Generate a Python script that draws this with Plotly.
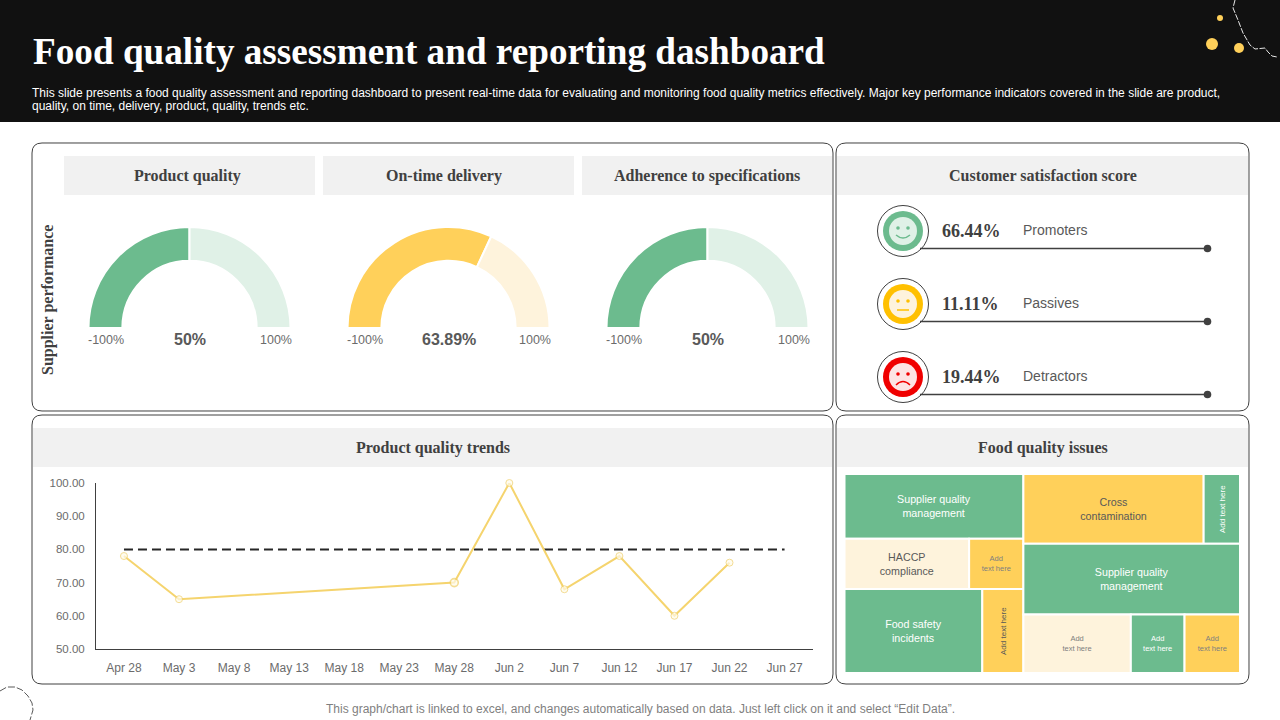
import plotly.graph_objects as go

# header text
title_text = "Food quality assessment and reporting dashboard"
sub_line1 = ("This slide presents a food quality assessment and reporting dashboard to present real-time data for "
             "evaluating and monitoring food quality metrics effectively. Major key performance indicators covered in the slide are product,")
sub_line2 = "quality, on time, delivery, product, quality, trends etc."
foot_text = "This graph/chart is linked to excel, and changes automatically based on data. Just left click on it and select “Edit Data”."

# gauges
gauge_names = ["Product quality", "On-time delivery", "Adherence to specifications"]
gauge_values = [50, 63.89, 50]
gauge_main = ["#6CBB8E", "#FFD05A", "#6CBB8E"]
gauge_rest = ["#E0F1E7", "#FEF3DC", "#E0F1E7"]

# customer satisfaction
sat_names = ["Promoters", "Passives", "Detractors"]
sat_values = ["66.44%", "11.11%", "19.44%"]
sat_colors = ["#6CBB8E", "#FFC000", "#F00000"]
sat_faces = ["#E0F1E7", "#FEF3DC", "#FDE4E4"]

# trend line
trend_dates = ["2024-04-28", "2024-05-03", "2024-05-28", "2024-06-02",
               "2024-06-07", "2024-06-12", "2024-06-17", "2024-06-22"]
trend_values = [78, 65, 70, 100, 68, 78, 60, 76]
target_dates = ["2024-04-28", "2024-06-27"]
target_values = [80, 80]
tick_dates = ["2024-04-28", "2024-05-03", "2024-05-08", "2024-05-13", "2024-05-18", "2024-05-23", "2024-05-28",
              "2024-06-02", "2024-06-07", "2024-06-12", "2024-06-17", "2024-06-22", "2024-06-27"]
tick_labels = ["Apr 28", "May 3", "May 8", "May 13", "May 18", "May 23", "May 28",
               "Jun 2", "Jun 7", "Jun 12", "Jun 17", "Jun 22", "Jun 27"]

# treemap
GREEN, YELLOW, CREAM = "#6CBB8E", "#FFD05A", "#FEF3DC"
issue_ids = ["root", "left", "right", "l1", "l2", "l3", "r1", "r2", "r3",
             "a", "b", "c", "d", "e", "f", "g", "h", "i", "j", "k"]
issue_parents = ["", "root", "root", "left", "left", "left", "right", "right", "right",
                 "l1", "l2", "l2", "l3", "l3", "r1", "r1", "r2", "r3", "r3", "r3"]
issue_values = [0, 0, 0, 0, 0, 0, 0, 0, 0,
                114, 62, 27, 114, 34, 124, 25, 151, 62, 31, 32]
issue_text = [""] * 9 + ["Supplier quality<br>management", "HACCP<br>compliance", "Add<br>text here",
                         "Food safety<br>incidents", "", "Cross<br>contamination", "",
                         "Supplier quality<br>management", "Add<br>text here", "Add<br>text here", "Add<br>text here"]
issue_colors = ["#FFFFFF"] * 9 + [GREEN, CREAM, YELLOW, GREEN, YELLOW, YELLOW, GREEN, GREEN, CREAM, GREEN, YELLOW]
issue_sizes = [8] * 9 + [10.7, 10.7, 7.5, 10.7, 8, 10.7, 8, 10.7, 7.5, 7.5, 7.5]
issue_fonts = ["#FFFFFF"] * 9 + ["#FFFFFF", "#595959", "#7F7F7F", "#FFFFFF", "#595959", "#595959", "#FFFFFF",
                                 "#FFFFFF", "#7F7F7F", "#FFFFFF", "#7F7F7F"]

SERIF = "Liberation Serif"
SANS = "Liberation Sans"
DARK = "#404040"
TICK = "#6B6B6B"


def px(x):
    return x / 1280


def py(y):
    return 1 - y / 720


def rect(x0, y0, x1, y1, fill, line=None, layer="below"):
    return dict(type="rect", xref="paper", yref="paper", x0=px(x0), x1=px(x1), y0=py(y0), y1=py(y1),
                fillcolor=fill, line=dict(width=0 if line is None else 1, color=line or fill), layer=layer)


def circle(cx, cy, r, fill, line=None, width=1):
    return dict(type="circle", xref="paper", yref="paper", x0=px(cx - r), x1=px(cx + r), y0=py(cy + r), y1=py(cy - r),
                fillcolor=fill, line=dict(width=width if line else 0, color=line or fill), layer="above")


def path(points, color, width=1.5, dash="solid", cmd="L"):
    d = "M %f,%f " % (px(points[0][0]), py(points[0][1]))
    if cmd == "Q":
        d += "Q %f,%f %f,%f" % (px(points[1][0]), py(points[1][1]), px(points[2][0]), py(points[2][1]))
    else:
        d += " ".join("L %f,%f" % (px(a), py(b)) for a, b in points[1:])
    return dict(type="path", xref="paper", yref="paper", path=d, line=dict(color=color, width=width, dash=dash),
                layer="above")


def panel(x0, y0, x1, y1, r=10):
    d = ("M %f,%f L %f,%f Q %f,%f %f,%f L %f,%f Q %f,%f %f,%f L %f,%f Q %f,%f %f,%f L %f,%f Q %f,%f %f,%f Z" % (
        px(x0 + r), py(y0), px(x1 - r), py(y0), px(x1), py(y0), px(x1), py(y0 + r),
        px(x1), py(y1 - r), px(x1), py(y1), px(x1 - r), py(y1),
        px(x0 + r), py(y1), px(x0), py(y1), px(x0), py(y1 - r),
        px(x0), py(y0 + r), px(x0), py(y0), px(x0 + r), py(y0)))
    return dict(type="path", xref="paper", yref="paper", path=d, line=dict(color=DARK, width=1), layer="below")


def label(x, y, text, size=12, color=DARK, family=SANS, anchor="center", angle=0):
    return dict(xref="paper", yref="paper", x=px(x), y=py(y), text=text, showarrow=False, xanchor=anchor,
                yanchor="middle", textangle=angle, font=dict(size=size, color=color, family=family))


def bold(t):
    return "<b>" + t + "</b>"


shapes = [rect(0, 0, 1280, 122, "#111111")]
annotations = [
    label(31, 52, bold(title_text), 37.2, "#FFFFFF", SERIF, "left"),
    label(30, 93.5, sub_line1, 12, "#FFFFFF", SANS, "left"),
    label(30, 106, sub_line2, 12, "#FFFFFF", SANS, "left"),
    label(640, 709, foot_text, 12, "#7F7F7F"),
    label(48, 300, bold("Supplier performance"), 16, DARK, SERIF, angle=-90),
]

# top right and bottom left decoration
for cx, cy, r in [(1212, 44, 6), (1239, 48, 5), (1220, 18, 3)]:
    shapes.append(circle(cx, cy, r, "#FFD05A"))
shapes.append(path([(1235, 0), (1233, 8), (1238, 20), (1243, 33), (1250, 45), (1255, 49), (1265, 48), (1268, 52),
                    (1272, 56), (1277, 57)], "#E8E8E8", 1, "6px,1.5px"))
shapes.append(path([(0, 691), (7, 687), (15, 687), (22, 690), (28, 696), (32, 703), (33, 710), (30, 720)],
                   "#595959", 1, "7px,2px"))

# panels and grey title bands
for x0, y0, x1, y1 in [(32, 143, 833, 411), (836, 143, 1249, 411), (32, 415, 833, 684), (836, 415, 1249, 684)]:
    shapes.append(panel(x0, y0, x1, y1))
bands = [(64, 156, 315, 195), (323, 156, 574, 195), (582, 156, 832, 195),
         (837, 156, 1248, 195), (33, 428, 832, 467), (837, 428, 1248, 467)]
for b in bands:
    shapes.append(rect(*b, "#F1F1F1"))
band_titles = gauge_names + ["Customer satisfaction score", "Product quality trends", "Food quality issues"]
title_x = [187.5, 443.5, 706.5, 1042.5, 432.5, 1042.5]
for b, t, tx in zip(bands, band_titles, title_x):
    annotations.append(label(tx, (b[1] + b[3]) / 2, bold(t), 16, DARK, SERIF))

fig = go.Figure()

# gauges, half of each pie is left transparent
gauge_x = [189.5, 448.5, 707.5]
for i, v in enumerate(gauge_values):
    cx = gauge_x[i]
    fig.add_trace(go.Pie(
        values=[v, 100 - v, 100], sort=False, direction="clockwise", rotation=270, hole=0.665,
        domain=dict(x=[px(cx - 101), px(cx + 101)], y=[py(429), py(227)]),
        marker=dict(colors=[gauge_main[i], gauge_rest[i], "rgba(0,0,0,0)"],
                    line=dict(color="#FFFFFF", width=[2, 2, 0])),
        textinfo="none", showlegend=False, hoverinfo="skip"))
    annotations.append(label(cx - 84, 339.5, "-100%", 12.5, TICK))
    annotations.append(label(cx + 86, 339.5, "100%", 12.5, TICK))
    annotations.append(label(cx, 339.5, bold(f"{v}%"), 16, "#595959"))

# trend line
fig.add_trace(go.Scatter(x=target_dates, y=target_values, mode="lines", showlegend=False,
                         line=dict(color="#262626", width=2, dash="9px,5px")))
fig.add_trace(go.Scatter(x=trend_dates, y=trend_values, mode="lines+markers", showlegend=False, cliponaxis=False,
                         line=dict(color="#F5D46E", width=2),
                         marker=dict(size=[7, 7, 8, 7, 7, 7, 7, 7], color="#FFFBEA",
                                     line=dict(color="#F0CF68", width=[1, 1, 1.6, 1, 1, 1, 1, 1]))))

# issues treemap, nested slice and dice like the slide
fig.add_trace(go.Treemap(
    ids=issue_ids, labels=issue_ids, parents=issue_parents, values=issue_values, text=issue_text,
    textinfo="text", textposition="middle center", sort=False,
    tiling=dict(packing="slice-dice", pad=0), pathbar=dict(visible=False),
    domain=dict(x=[px(844.5), px(1240)], y=[py(673), py(474)]),
    marker=dict(colors=issue_colors, pad=dict(t=0, l=0, r=0, b=0), line=dict(color="#FFFFFF", width=2)),
    textfont=dict(family=SANS, size=issue_sizes, color=issue_fonts),
    hoverinfo="skip"))
annotations.append(label(1222, 509, "Add text here", 8, "#FFFFFF", angle=-90))
annotations.append(label(1003, 631, "Add text here", 8, "#595959", angle=-90))

# customer satisfaction rows
sat_y = [231, 304, 377]
for i, cy in enumerate(sat_y):
    col = sat_colors[i]
    shapes.append(circle(903, cy, 25.5, "#FFFFFF", DARK, 1))
    shapes.append(circle(903, cy, 20, col))
    shapes.append(circle(903, cy, 14, sat_faces[i]))
    shapes.append(circle(898, cy - 3, 1.8, col))
    shapes.append(circle(908, cy - 3, 1.8, col))
    if i == 0:
        shapes.append(path([(896, cy + 4), (903, cy + 10), (910, cy + 4)], col, 1.5, cmd="Q"))
    elif i == 1:
        shapes.append(path([(897, cy + 6), (909, cy + 6)], col, 1.5))
    else:
        shapes.append(path([(896, cy + 8), (903, cy + 1), (910, cy + 8)], col, 1.5, cmd="Q"))
    shapes.append(path([(920, cy + 17.5), (1207, cy + 17.5)], DARK, 1.3))
    shapes.append(circle(1207.5, cy + 17.5, 3.8, DARK))
    annotations.append(label(940, cy, bold(sat_values[i]), 18, DARK, SERIF, "left"))
    annotations.append(label(1021, cy - 1, sat_names[i], 14, "#595959", SANS, "left"))

fig.update_layout(
    width=1280, height=720, margin=dict(l=0, r=0, t=0, b=0, pad=0, autoexpand=False),
    paper_bgcolor="#FFFFFF", plot_bgcolor="#FFFFFF", showlegend=False,
    shapes=shapes, annotations=annotations,
    xaxis=dict(domain=[px(96), px(813)], type="date", range=["2024-04-25 11:00", "2024-06-29 14:00"],
               tickvals=tick_dates, ticktext=tick_labels, showgrid=False, zeroline=False, ticks="",
               ticklabelstandoff=8, showline=True, linecolor=DARK, linewidth=1,
               tickfont=dict(family=SANS, size=12, color=TICK)),
    yaxis=dict(domain=[py(649), py(483)], range=[50, 100], dtick=10, tickformat=".2f", showgrid=False, zeroline=False,
               ticks="", ticklabelstandoff=8, showline=True, linecolor=DARK, linewidth=1,
               tickfont=dict(family=SANS, size=11.5, color=TICK)),
)

fig.write_html("out.html", config=dict(displayModeBar=False), post_script="document.body.style.margin='0';")
